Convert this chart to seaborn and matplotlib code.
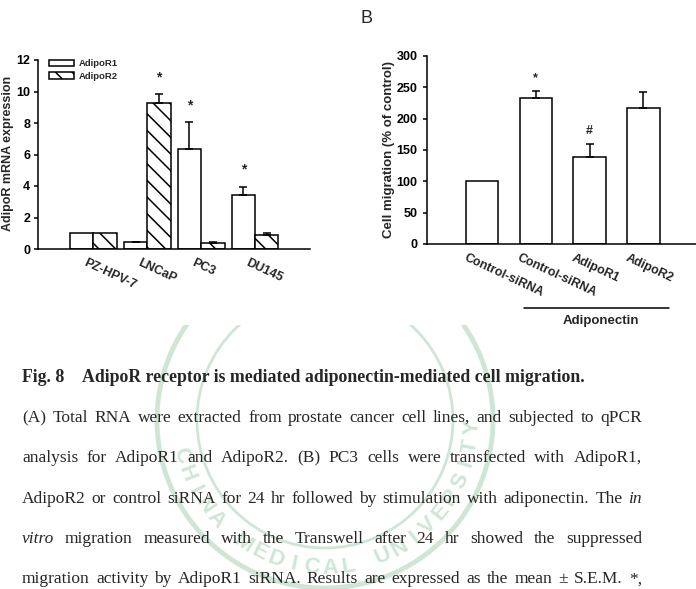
import matplotlib
matplotlib.use("Agg")
import numpy as np
import pandas as pd
import seaborn as sns
import matplotlib.pyplot as plt
from matplotlib.patches import Patch, Circle, Rectangle
from matplotlib.transforms import ScaledTranslation, IdentityTransform, blended_transform_factory

W, H = 696, 589

# Panel A: AdipoR mRNA expression per cell line
cell_lines = ["PZ-HPV-7", "LNCaP", "PC3", "DU145"]
adipo_r1 = [1.0, 0.42, 6.35, 3.4]
adipo_r2 = [1.0, 9.3, 0.4, 0.9]
adipo_r1_sem = [0.0, 0.05, 1.7, 0.55]
adipo_r2_sem = [0.0, 0.55, 0.04, 0.12]
adipo_r1_sig = ["", "", "*", "*"]
adipo_r2_sig = ["", "*", "", ""]

# Panel B: cell migration
treatments = ["ctrl", "ctrl_adipo", "r1_adipo", "r2_adipo"]
treatment_labels = ["Control-siRNA", "Control-siRNA", "AdipoR1", "AdipoR2"]
migration = [100, 233.5, 139, 217]
migration_sem = [0, 11, 21, 25]
migration_sig = ["", "*", "#", ""]

caption_title = ["Fig. 8", "AdipoR receptor is mediated adiponectin-mediated cell migration."]
caption_lines = [
    "(A) Total RNA were extracted from prostate cancer cell lines, and subjected to qPCR",
    "analysis for AdipoR1 and AdipoR2. (B) PC3 cells were transfected with AdipoR1,",
    "AdipoR2 or control siRNA for 24 hr followed by stimulation with adiponectin. The _in_",
    "_vitro_ migration measured with the Transwell after 24 hr showed the suppressed",
    "migration activity by AdipoR1 siRNA. Results are expressed as the mean \u00b1 S.E.M. *,",
]
watermark_text = "CHINA MEDICAL UNIVERSITY"

sns.set_style("ticks")
plt.rcParams["font.family"] = ["Liberation Sans", "DejaVu Sans"]
plt.rcParams["hatch.linewidth"] = 1.1
plt.rcParams["axes.linewidth"] = 1.1
plt.rcParams["axes.edgecolor"] = "black"

fig = plt.figure(figsize=(W / 100, H / 100), dpi=100)
px = IdentityTransform()


def px_axes(left, top, right, bottom):
    return fig.add_axes([left / W, 1 - bottom / H, (right - left) / W, (bottom - top) / H])


# faint watermark behind the caption
wm_color = "#cfe6d7"
clip = Rectangle((0, 0), W, H - 325, transform=px)
cx, cy = 325, H - 420
for r, lw in [(168, 3.5), (128, 2.0)]:
    ring = Circle((cx, cy), r, fill=False, ec=wm_color, lw=lw, transform=px, zorder=0)
    fig.add_artist(ring)
    ring.set_clip_path(clip)
for ch, a in zip(watermark_text, np.linspace(194, 357, len(watermark_text))):
    t = np.deg2rad(a)
    fig.text(cx + 148 * np.cos(t), cy + 148 * np.sin(t), ch, transform=px,
             rotation=a + 90, ha="center", va="center", fontsize=16,
             fontweight="bold", color=wm_color, zorder=0)

ax_a = px_axes(38, 60, 310, 249)
ax_b = px_axes(427, 56, 700, 244)

# ---- panel A
df_a = pd.DataFrame({
    "line": cell_lines * 2,
    "receptor": ["AdipoR1"] * 4 + ["AdipoR2"] * 4,
    "expr": adipo_r1 + adipo_r2,
})
sns.barplot(data=df_a, x="line", y="expr", hue="receptor", order=cell_lines,
            palette=["white", "white"], edgecolor="black", linewidth=1.1,
            width=0.87, errorbar=None, legend=False, saturation=1, ax=ax_a)
for bar in ax_a.containers[1]:
    bar.set_hatch("\\\\")


def add_errors(ax, container, sems, sigs, offset, sig_size):
    for bar, e, s in zip(container, sems, sigs):
        x = bar.get_x() + bar.get_width() / 2
        h = bar.get_height()
        if e > 0:
            ax.errorbar(x, h, yerr=[[0], [e]], fmt="none", ecolor="black",
                        elinewidth=1.1, capsize=3, capthick=1.1, zorder=1)
        if s:
            ax.annotate(s, (x, h + e), xytext=(0, offset), textcoords="offset points",
                        ha="center", va="baseline", fontsize=sig_size, fontweight="bold")


add_errors(ax_a, ax_a.containers[0], adipo_r1_sem, adipo_r1_sig, 9.5, 10)
add_errors(ax_a, ax_a.containers[1], adipo_r2_sem, adipo_r2_sig, 9, 10)

ax_a.set_xlim(-1.03, 4.02)
ax_a.set_ylim(0, 12)
ax_a.set_yticks(range(0, 13, 2))
ax_a.set_xlabel("")
ax_a.set_ylabel("AdipoR mRNA expression", fontsize=9, fontweight="bold")
ax_a.yaxis.set_label_coords(14.5 / W, 1 - 153 / H, transform=fig.transFigure)

handles = [
    Patch(facecolor="white", edgecolor="black", linewidth=1.1, label="AdipoR1"),
    Patch(facecolor="white", edgecolor="black", linewidth=1.1, hatch="\\\\", label="AdipoR2"),
]
ax_a.legend(handles=handles, loc="upper left", bbox_to_anchor=(49 / W, 1 - 59 / H),
            bbox_transform=fig.transFigure, frameon=False, borderpad=0, borderaxespad=0,
            handlelength=2.6, handleheight=0.65, handletextpad=0.6, labelspacing=0.4,
            prop={"weight": "bold", "size": 6.8})

# ---- panel B
df_b = pd.DataFrame({"treatment": treatments, "migration": migration})
sns.barplot(data=df_b, x="treatment", y="migration", order=treatments, color="white",
            edgecolor="black", linewidth=1.1, width=0.6, errorbar=None,
            saturation=1, ax=ax_b)
add_errors(ax_b, ax_b.containers[0], migration_sem, migration_sig, 7, 9)

ax_b.set_xlim(-1.02, 4.05)
ax_b.set_ylim(0, 300)
ax_b.set_yticks(range(0, 301, 50))
ax_b.set_xticks(range(len(treatments)))
ax_b.set_xticklabels(treatment_labels)
ax_b.set_xlabel("")
ax_b.set_ylabel("Cell migration (% of control)", fontsize=9.5, fontweight="bold")
ax_b.yaxis.set_label_coords(395 / W, 1 - 149 / H, transform=fig.transFigure)

# adiponectin bracket under the treated groups
trans_b = blended_transform_factory(ax_b.transData, ax_b.transAxes)
ax_b.plot([0.78, 3.48], [-0.34, -0.34], color="black", lw=1.1, transform=trans_b, clip_on=False)
ax_b.text(2.21, -0.41, "Adiponectin", transform=trans_b, ha="center", va="center",
          fontsize=9.5, fontweight="bold")

fig.text(360, H - 23, "B", transform=px, fontsize=13, ha="left", va="baseline")


def style_axes(ax, dx_px, pad_pt, ypad):
    sns.despine(ax=ax)
    ax.tick_params(axis="y", direction="out", length=3, width=1.1, pad=ypad,
                   labelsize=9, colors="black")
    ax.tick_params(axis="x", length=0, pad=pad_pt, labelsize=9)
    for lab in ax.get_yticklabels():
        lab.set_fontweight("bold")
    for lab in ax.get_xticklabels():
        lab.set_rotation(-25)
        lab.set_ha("left")
        lab.set_va("top")
        lab.set_rotation_mode("anchor")
        lab.set_fontweight("bold")
        lab.set_transform(lab.get_transform() + ScaledTranslation(dx_px / 100, 0, fig.dpi_scale_trans))


style_axes(ax_a, -6.5, 5.8, 2.5)
style_axes(ax_b, -15, 6.0, 4)

# ---- caption
renderer = fig.canvas.get_renderer()
serif = ["Liberation Serif", "DejaVu Serif"]


def put_words(words, baseline, x0, x1, size, weight="normal"):
    items = []
    for w in words:
        italic = w.startswith("_") and w.endswith("_")
        items.append(fig.text(0, H - baseline, w.strip("_"), transform=px, fontsize=size,
                              family=serif, style="italic" if italic else "normal",
                              weight=weight, ha="left", va="baseline", zorder=3))
    widths = [t.get_window_extent(renderer).width for t in items]
    gap = (x1 - x0 - sum(widths)) / max(len(items) - 1, 1)
    x = x0
    for t, w in zip(items, widths):
        t.set_x(x)
        x += w + gap


fig.text(22, H - 381.5, caption_title[0], transform=px, fontsize=12.8, family=serif,
         weight="bold", ha="left", va="baseline")
fig.text(82.5, H - 381.5, caption_title[1], transform=px, fontsize=12.8, family=serif,
         weight="bold", ha="left", va="baseline")
for i, line in enumerate(caption_lines):
    put_words(line.split(" "), 422 + i * 40.3, 22, 642, 12.5)

fig.savefig("out.png", dpi=100)
